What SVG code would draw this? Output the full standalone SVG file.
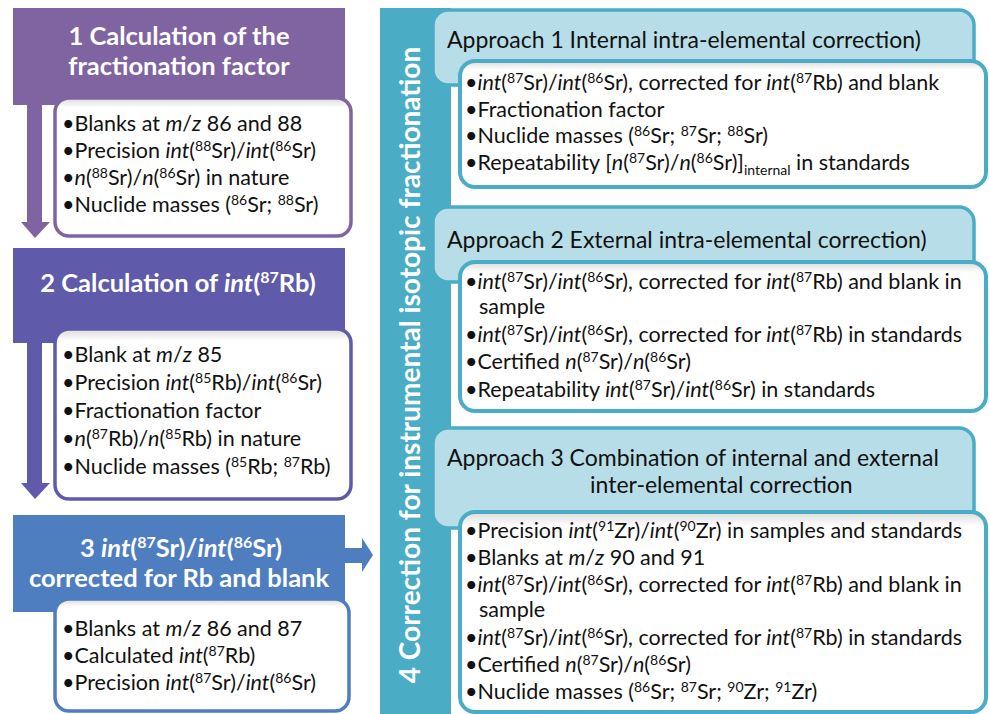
<svg xmlns="http://www.w3.org/2000/svg" width="989" height="714" viewBox="0 0 989 714">
  <defs>
    <linearGradient id="paper" x1="0" y1="0" x2="0" y2="1">
      <stop offset="0" stop-color="#dadada"/>
      <stop offset="0.07" stop-color="#ffffff"/>
      <stop offset="1" stop-color="#ffffff"/>
    </linearGradient>
    <style>
      text { font-family: Lato, "Open Sans", "DejaVu Sans", sans-serif; }
      .hd { font-size: 25.5px; font-weight: bold; fill: #ffffff; text-anchor: middle; }
      .vt { font-size: 28px; font-weight: bold; fill: #ffffff; text-anchor: middle; }
      .ah { font-size: 23px; fill: #111111; }
      .tx { font-size: 21.5px; fill: #111111; }
      .i { font-style: italic; }
      .s { font-size: 14px; }
      .box { fill: url(#paper); }
      .appr { fill: #b7dee8; stroke: #4bacc6; stroke-width: 3.5; }
      .abox { stroke: #4bacc6; stroke-width: 4; }
    </style>
  </defs>
  <rect width="989" height="714" fill="#ffffff"/>

  <!-- step 1 -->
  <g id="step1">
    <rect x="13" y="8" width="332" height="97" fill="#8064a2"/>
    <text class="hd" x="179" y="45">1 Calculation of the</text>
    <text class="hd" x="179" y="75">fractionation factor</text>
    <rect class="box" x="55" y="98" width="296" height="138" rx="14" stroke="#8064a2" stroke-width="3.5"/>
    <text class="tx" x="62" y="131">•Blanks at <tspan class="i">m</tspan>/<tspan class="i">z</tspan> 86 and 88</text>
    <text class="tx" x="62" y="158">•Precision <tspan class="i">int</tspan>(<tspan class="s" dy="-7">88</tspan><tspan dy="7">Sr)/</tspan><tspan class="i">int</tspan>(<tspan class="s" dy="-7">86</tspan><tspan dy="7">Sr)</tspan></text>
    <text class="tx" x="62" y="185">•<tspan class="i">n</tspan>(<tspan class="s" dy="-7">88</tspan><tspan dy="7">Sr)/</tspan><tspan class="i">n</tspan>(<tspan class="s" dy="-7">86</tspan><tspan dy="7">Sr) in nature</tspan></text>
    <text class="tx" x="62" y="212">•Nuclide masses (<tspan class="s" dy="-7">86</tspan><tspan dy="7">Sr; </tspan><tspan class="s" dy="-7">88</tspan><tspan dy="7">Sr)</tspan></text>
  </g>

  <!-- step 2 -->
  <g id="step2">
    <rect x="13" y="248" width="332" height="95" fill="#5f5aaa"/>
    <text class="hd" x="178" y="292">2 Calculation of <tspan class="i">int</tspan>(<tspan font-size="16px" dy="-9">87</tspan><tspan dy="9">Rb)</tspan></text>
    <rect class="box" x="55" y="329" width="296" height="170" rx="14" stroke="#5f5aaa" stroke-width="3.5"/>
    <text class="tx" x="62" y="362">•Blank at <tspan class="i">m</tspan>/<tspan class="i">z</tspan> 85</text>
    <text class="tx" x="62" y="390">•Precision <tspan class="i">int</tspan>(<tspan class="s" dy="-7">85</tspan><tspan dy="7">Rb)/</tspan><tspan class="i">int</tspan>(<tspan class="s" dy="-7">86</tspan><tspan dy="7">Sr)</tspan></text>
    <text class="tx" x="62" y="418">•Fractionation factor</text>
    <text class="tx" x="62" y="446">•<tspan class="i">n</tspan>(<tspan class="s" dy="-7">87</tspan><tspan dy="7">Rb)/</tspan><tspan class="i">n</tspan>(<tspan class="s" dy="-7">85</tspan><tspan dy="7">Rb) in nature</tspan></text>
    <text class="tx" x="62" y="474">•Nuclide masses (<tspan class="s" dy="-7">85</tspan><tspan dy="7">Rb; </tspan><tspan class="s" dy="-7">87</tspan><tspan dy="7">Rb)</tspan></text>
  </g>

  <!-- step 3 -->
  <g id="step3">
    <rect x="13" y="515" width="332" height="97" fill="#4f7ec0"/>
    <text class="hd" x="181" y="557">3 <tspan class="i">int</tspan>(<tspan font-size="16px" dy="-9">87</tspan><tspan dy="9">Sr)/</tspan><tspan class="i">int</tspan>(<tspan font-size="16px" dy="-9">86</tspan><tspan dy="9">Sr)</tspan></text>
    <text class="hd" x="179" y="587">corrected for Rb and blank</text>
    <rect class="box" x="55" y="599" width="294" height="112" rx="14" stroke="#4f7ec0" stroke-width="3.5"/>
    <text class="tx" x="62" y="636">•Blanks at <tspan class="i">m</tspan>/<tspan class="i">z</tspan> 86 and 87</text>
    <text class="tx" x="62" y="663">•Calculated <tspan class="i">int</tspan>(<tspan class="s" dy="-7">87</tspan><tspan dy="7">Rb)</tspan></text>
    <text class="tx" x="62" y="690">•Precision <tspan class="i">int</tspan>(<tspan class="s" dy="-7">87</tspan><tspan dy="7">Sr)/</tspan><tspan class="i">int</tspan>(<tspan class="s" dy="-7">86</tspan><tspan dy="7">Sr)</tspan></text>
  </g>

  <!-- arrows between steps -->
  <g id="connectors">
    <polygon points="27,105 42,105 42,222 50,222 35,238 21,222 27,222" fill="#8064a2"/>
    <polygon points="27,343 42,343 42,483 50,483 35,499 21,483 27,483" fill="#5f5aaa"/>
    <polygon points="345,548 362,548 362,538 373,555 362,572 362,563 345,563" fill="#4f7ec0"/>
  </g>

  <!-- step 4: vertical band -->
  <g id="step4">
    <rect x="380" y="8" width="71" height="706" fill="#4bacc6"/>
    <text class="vt" transform="translate(420,365) rotate(-90)">4 Correction for instrumental isotopic fractionation</text>
  </g>

  <!-- approach 1 -->
  <g id="approach1">
    <rect class="appr" x="433" y="10" width="541" height="75" rx="15"/>
    <text class="ah" x="447" y="48">Approach 1 Internal intra-elemental correction)</text>
    <rect class="box abox" x="460" y="61" width="526" height="126" rx="15"/>
    <text class="tx" x="465" y="90">•<tspan class="i">int</tspan>(<tspan class="s" dy="-7">87</tspan><tspan dy="7">Sr)/</tspan><tspan class="i">int</tspan>(<tspan class="s" dy="-7">86</tspan><tspan dy="7">Sr), corrected for </tspan><tspan class="i">int</tspan>(<tspan class="s" dy="-7">87</tspan><tspan dy="7">Rb) and blank</tspan></text>
    <text class="tx" x="465" y="117">•Fractionation factor</text>
    <text class="tx" x="465" y="143">•Nuclide masses (<tspan class="s" dy="-7">86</tspan><tspan dy="7">Sr; </tspan><tspan class="s" dy="-7">87</tspan><tspan dy="7">Sr; </tspan><tspan class="s" dy="-7">88</tspan><tspan dy="7">Sr)</tspan></text>
    <text class="tx" x="465" y="170">•Repeatability [<tspan class="i">n</tspan>(<tspan class="s" dy="-7">87</tspan><tspan dy="7">Sr)/</tspan><tspan class="i">n</tspan>(<tspan class="s" dy="-7">86</tspan><tspan dy="7">Sr)]</tspan><tspan class="s" dy="5">internal</tspan><tspan dy="-5"> in standards</tspan></text>
  </g>

  <!-- approach 2 -->
  <g id="approach2">
    <rect class="appr" x="433" y="207" width="541" height="75" rx="15"/>
    <text class="ah" x="447" y="248">Approach 2 External intra-elemental correction)</text>
    <rect class="box abox" x="460" y="262" width="526" height="149" rx="15"/>
    <text class="tx" x="465" y="289">•<tspan class="i">int</tspan>(<tspan class="s" dy="-7">87</tspan><tspan dy="7">Sr)/</tspan><tspan class="i">int</tspan>(<tspan class="s" dy="-7">86</tspan><tspan dy="7">Sr), corrected for </tspan><tspan class="i">int</tspan>(<tspan class="s" dy="-7">87</tspan><tspan dy="7">Rb) and blank in</tspan></text>
    <text class="tx" x="479" y="314">sample</text>
    <text class="tx" x="465" y="342">•<tspan class="i">int</tspan>(<tspan class="s" dy="-7">87</tspan><tspan dy="7">Sr)/</tspan><tspan class="i">int</tspan>(<tspan class="s" dy="-7">86</tspan><tspan dy="7">Sr), corrected for </tspan><tspan class="i">int</tspan>(<tspan class="s" dy="-7">87</tspan><tspan dy="7">Rb) in standards</tspan></text>
    <text class="tx" x="465" y="369">•Certified <tspan class="i">n</tspan>(<tspan class="s" dy="-7">87</tspan><tspan dy="7">Sr)/</tspan><tspan class="i">n</tspan>(<tspan class="s" dy="-7">86</tspan><tspan dy="7">Sr)</tspan></text>
    <text class="tx" x="465" y="397">•Repeatability <tspan class="i">int</tspan>(<tspan class="s" dy="-7">87</tspan><tspan dy="7">Sr)/</tspan><tspan class="i">int</tspan>(<tspan class="s" dy="-7">86</tspan><tspan dy="7">Sr) in standards</tspan></text>
  </g>

  <!-- approach 3 -->
  <g id="approach3">
    <rect class="appr" x="433" y="428" width="541" height="100" rx="15"/>
    <text class="ah" x="447" y="466">Approach 3 Combination of internal and external</text>
    <text class="ah" x="590" y="493">inter-elemental correction</text>
    <rect class="box abox" x="460" y="512" width="526" height="200" rx="15"/>
    <text class="tx" x="465" y="538">•Precision <tspan class="i">int</tspan>(<tspan class="s" dy="-7">91</tspan><tspan dy="7">Zr)/</tspan><tspan class="i">int</tspan>(<tspan class="s" dy="-7">90</tspan><tspan dy="7">Zr) in samples and standards</tspan></text>
    <text class="tx" x="465" y="565">•Blanks at <tspan class="i">m</tspan>/<tspan class="i">z</tspan> 90 and 91</text>
    <text class="tx" x="465" y="592">•<tspan class="i">int</tspan>(<tspan class="s" dy="-7">87</tspan><tspan dy="7">Sr)/</tspan><tspan class="i">int</tspan>(<tspan class="s" dy="-7">86</tspan><tspan dy="7">Sr), corrected for </tspan><tspan class="i">int</tspan>(<tspan class="s" dy="-7">87</tspan><tspan dy="7">Rb) and blank in</tspan></text>
    <text class="tx" x="479" y="617">sample</text>
    <text class="tx" x="465" y="645">•<tspan class="i">int</tspan>(<tspan class="s" dy="-7">87</tspan><tspan dy="7">Sr)/</tspan><tspan class="i">int</tspan>(<tspan class="s" dy="-7">86</tspan><tspan dy="7">Sr), corrected for </tspan><tspan class="i">int</tspan>(<tspan class="s" dy="-7">87</tspan><tspan dy="7">Rb) in standards</tspan></text>
    <text class="tx" x="465" y="672">•Certified <tspan class="i">n</tspan>(<tspan class="s" dy="-7">87</tspan><tspan dy="7">Sr)/</tspan><tspan class="i">n</tspan>(<tspan class="s" dy="-7">86</tspan><tspan dy="7">Sr)</tspan></text>
    <text class="tx" x="465" y="699">•Nuclide masses (<tspan class="s" dy="-7">86</tspan><tspan dy="7">Sr; </tspan><tspan class="s" dy="-7">87</tspan><tspan dy="7">Sr; </tspan><tspan class="s" dy="-7">90</tspan><tspan dy="7">Zr; </tspan><tspan class="s" dy="-7">91</tspan><tspan dy="7">Zr)</tspan></text>
  </g>
</svg>
